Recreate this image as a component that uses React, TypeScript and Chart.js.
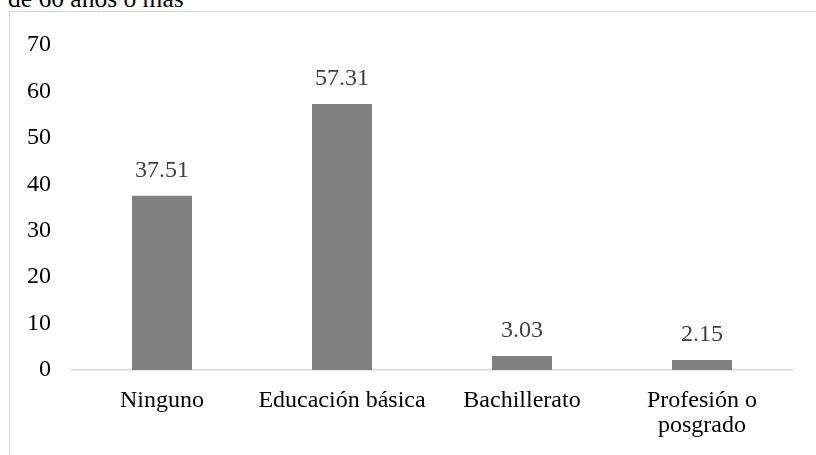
import React, { useEffect, useRef } from "react";
import { Chart, registerables } from "chart.js";

Chart.register(...registerables);

const categories: (string | string[])[] = [
  "Ninguno",
  "Educación básica",
  "Bachillerato",
  ["Profesión o", "posgrado"],
];
const values: number[] = [37.51, 57.31, 3.03, 2.15];
const valueLabels: string[] = ["37.51", "57.31", "3.03", "2.15"];
const titleText = "de 60 años o más";

const FONT = "'Liberation Serif', 'Times New Roman', serif";

const valueLabelPlugin = {
  id: "valueLabels",
  afterDatasetsDraw(chart: any) {
    const ctx = chart.ctx;
    const meta = chart.getDatasetMeta(0);
    ctx.save();
    ctx.font = `24px ${FONT}`;
    ctx.fillStyle = "#404040";
    ctx.textAlign = "center";
    ctx.textBaseline = "middle";
    meta.data.forEach((bar: any, i: number) => {
      ctx.fillText(valueLabels[i], bar.x, bar.y - 25);
    });
    ctx.restore();
  },
};

export default function App() {
  const ref = useRef<HTMLCanvasElement | null>(null);
  useEffect(() => {
    if (!ref.current) return;
    const chart = new Chart(ref.current, {
      type: "bar",
      data: {
        labels: categories as any,
        datasets: [
          {
            data: values,
            backgroundColor: "#808080",
            barPercentage: 0.6667,
            categoryPercentage: 0.5,
          },
        ],
      },
      options: {
        responsive: false,
        animation: false,
        devicePixelRatio: 1,
        layout: { padding: { top: 45, right: 24, bottom: 0, left: 0 } },
        plugins: {
          legend: { display: false },
          tooltip: { enabled: false },
        },
        scales: {
          x: {
            grid: { display: false, drawTicks: false },
            border: { display: true, color: "#d9d9d9", width: 1.5 },
            ticks: {
              color: "#000",
              font: { family: FONT, size: 24, lineHeight: 1.05 },
              padding: 18,
              maxRotation: 0,
              autoSkip: false,
            },
            afterFit: (s: any) => {
              s.height = 85;
            },
          },
          y: {
            min: 0,
            max: 70,
            grid: { display: false, drawTicks: false },
            border: { display: false },
            ticks: {
              stepSize: 10,
              color: "#000",
              font: { family: FONT, size: 24 },
              padding: 21,
            },
            afterFit: (s: any) => {
              s.width = 72;
            },
          },
        },
      },
      plugins: [valueLabelPlugin],
    });
    return () => chart.destroy();
  }, []);

  return (
    <div
      style={{
        position: "fixed",
        left: 0,
        top: 0,
        width: 816,
        height: 455,
        overflow: "hidden",
        background: "#fff",
      }}
    >
      <div
        style={{
          position: "absolute",
          left: 8,
          top: -14,
          fontFamily: FONT,
          fontSize: 25.5,
          lineHeight: "25.5px",
          color: "#000",
          whiteSpace: "nowrap",
        }}
      >
        {titleText}
      </div>
      <div
        style={{
          position: "absolute",
          left: 9,
          top: 11,
          width: 900,
          height: 600,
          border: "1px solid #d9d9d9",
          boxSizing: "border-box",
        }}
      />
      <canvas
        ref={ref}
        width={816}
        height={455}
        style={{ position: "absolute", left: 0, top: 0, width: 816, height: 455 }}
      />
    </div>
  );
}
